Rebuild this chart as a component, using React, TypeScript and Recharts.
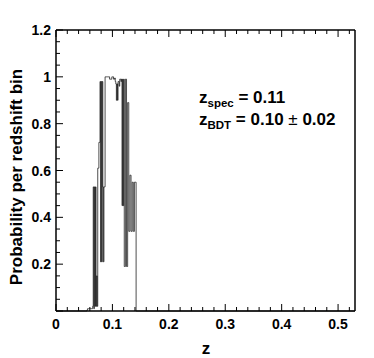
import React from "react";
import { LineChart, Line, XAxis, YAxis } from "recharts";

// fine redshift bins, 0.001 wide, starting at z = 0.055
const BIN_START = 0.055;
const BIN_WIDTH = 0.001;
const prob = [
    0.005, 0.01, 0.01, 0.01, 0.01, 0.01, 0.01, 0.01, 0.01, 0.01,
    0.02, 0.53, 0.01, 0.53, 0.02, 0.53, 0.02, 0.15, 0.02, 0.61,
    0.61, 0.72, 0.72, 0.98, 0.21, 0.98, 0.21, 0.98, 0.53, 0.21,
    0.53, 0.53, 1.0, 1.0, 1.0, 1.0, 1.0, 1.0, 1.0, 1.0,
    0.99, 0.99, 0.99, 0.99, 1.0, 1.0, 1.0, 0.99, 0.99, 0.995,
    0.98, 0.97, 0.9, 0.97, 0.9, 0.98, 0.98, 0.96, 0.99, 0.99,
    0.98, 0.99, 0.45, 0.99, 0.45, 0.99, 0.19, 0.19, 0.99, 0.99,
    0.19, 0.19, 0.89, 0.89, 0.34, 0.34, 0.58, 0.58, 0.34, 0.34,
    0.55, 0.55, 0.34, 0.34, 0.55, 0.55, 0.55,
];

const xTicks = [0, 0.02, 0.04, 0.06, 0.08, 0.1, 0.12, 0.14, 0.16, 0.18, 0.2, 0.22, 0.24, 0.26,
    0.28, 0.3, 0.32, 0.34, 0.36, 0.38, 0.4, 0.42, 0.44, 0.46, 0.48, 0.5, 0.52];
const yTicks = [0, 0.05, 0.1, 0.15, 0.2, 0.25, 0.3, 0.35, 0.4, 0.45, 0.5, 0.55, 0.6, 0.65,
    0.7, 0.75, 0.8, 0.85, 0.9, 0.95, 1, 1.05, 1.1, 1.15, 1.2];
const xLabels = ["0", "0.1", "0.2", "0.3", "0.4", "0.5"];
const yLabels = ["0.2", "0.4", "0.6", "0.8", "1", "1.2"];

const data = [
    { z: 0, p: 0 },
    ...prob.map((p, i) => ({ z: +(BIN_START + i * BIN_WIDTH).toFixed(4), p })),
    { z: +(BIN_START + prob.length * BIN_WIDTH).toFixed(4), p: 0 },
    { z: 0.53, p: 0 },
];

const FONT = "'Liberation Sans', Arial, Helvetica, sans-serif";

const fmt = (v: number) => String(Math.round(v * 10) / 10);

const BottomTick = (props: any) => {
    const { x, y, payload } = props;
    const label = fmt(payload.value);
    const major = xLabels.includes(label) && Math.abs(payload.value * 10 - Math.round(payload.value * 10)) < 1e-6;
    return (
        <g>
            <line x1={x} x2={x} y1={y} y2={y - (major ? 7 : 4)} stroke="#000" />
            {major && (
                <text x={x} y={y + 18} textAnchor="middle" fontFamily={FONT} fontWeight="bold" fontSize={14} fill="#000">
                    {label}
                </text>
            )}
        </g>
    );
};

const TopTick = (props: any) => {
    const { x, y, payload } = props;
    const major = Math.abs(payload.value * 10 - Math.round(payload.value * 10)) < 1e-6;
    return <line x1={x} x2={x} y1={y} y2={y + (major ? 7 : 4)} stroke="#000" />;
};

const LeftTick = (props: any) => {
    const { x, y, payload } = props;
    const label = fmt(payload.value);
    const major = Math.abs(payload.value * 5 - Math.round(payload.value * 5)) < 1e-6;
    return (
        <g>
            <line x1={x} x2={x + (major ? 7 : 4)} y1={y} y2={y} stroke="#000" />
            {major && yLabels.includes(label) && (
                <text x={x - 5} y={y + 5} textAnchor="end" fontFamily={FONT} fontWeight="bold" fontSize={14} fill="#000">
                    {label}
                </text>
            )}
        </g>
    );
};

const RightTick = (props: any) => {
    const { x, y, payload } = props;
    const major = Math.abs(payload.value * 5 - Math.round(payload.value * 5)) < 1e-6;
    return <line x1={x} x2={x - (major ? 7 : 4)} y1={y} y2={y} stroke="#000" />;
};

export default function App() {
    return (
        <div style={{ position: "absolute", left: 0, top: 0, width: 374, height: 358, background: "#fff" }}>
            <LineChart width={374} height={358} data={data} margin={{ top: 0, right: 0, bottom: 0, left: 0 }}>
                <XAxis xAxisId="bottom" type="number" dataKey="z" domain={[0, 0.53]} ticks={xTicks}
                    orientation="bottom" height={47} tickSize={0} tickMargin={0} tickLine={false}
                    tick={BottomTick} interval={0} axisLine={{ stroke: "#000", strokeWidth: 1.5 }} />
                <XAxis xAxisId="top" type="number" dataKey="z" domain={[0, 0.53]} ticks={xTicks}
                    orientation="top" height={30} tickSize={0} tickMargin={0} tickLine={false}
                    tick={TopTick} interval={0} axisLine={{ stroke: "#000", strokeWidth: 1.5 }} />
                <YAxis yAxisId="left" type="number" domain={[0, 1.2]} ticks={yTicks} width={56}
                    tickSize={0} tickMargin={0} tickLine={false} tick={LeftTick} interval={0}
                    axisLine={{ stroke: "#000", strokeWidth: 1.5 }} />
                <YAxis yAxisId="right" orientation="right" type="number" domain={[0, 1.2]} ticks={yTicks} width={19}
                    tickSize={0} tickMargin={0} tickLine={false} tick={RightTick} interval={0}
                    axisLine={{ stroke: "#000", strokeWidth: 1.5 }} />
                <Line xAxisId="bottom" yAxisId="left" type="stepAfter" dataKey="p" stroke="#141414"
                    strokeWidth={0.75} dot={false} activeDot={false} isAnimationActive={false} />
            </LineChart>
            <svg width={374} height={358} style={{ position: "absolute", left: 0, top: 0, pointerEvents: "none" }}>
                <text transform="translate(22,177) rotate(-90)" textAnchor="middle" fontFamily={FONT}
                    fontWeight="bold" fontSize={17} fill="#000">
                    Probability per redshift bin
                </text>
                <text x={206} y={354} textAnchor="middle" fontFamily={FONT} fontWeight="bold" fontSize={17} fill="#000">
                    z
                </text>
                <text x={199} y={103} fontFamily={FONT} fontWeight="bold" fontSize={17} fill="#000">
                    z<tspan fontSize={11.5} dy={4}>spec</tspan><tspan dy={-4}> = 0.11</tspan>
                </text>
                <text x={199} y={125} fontFamily={FONT} fontWeight="bold" fontSize={17} fill="#000">
                    z<tspan fontSize={11.5} dy={4}>BDT</tspan><tspan dy={-4}> = 0.10 </tspan>
                    <tspan fontWeight="normal">±</tspan><tspan> 0.02</tspan>
                </text>
            </svg>
        </div>
    );
}
